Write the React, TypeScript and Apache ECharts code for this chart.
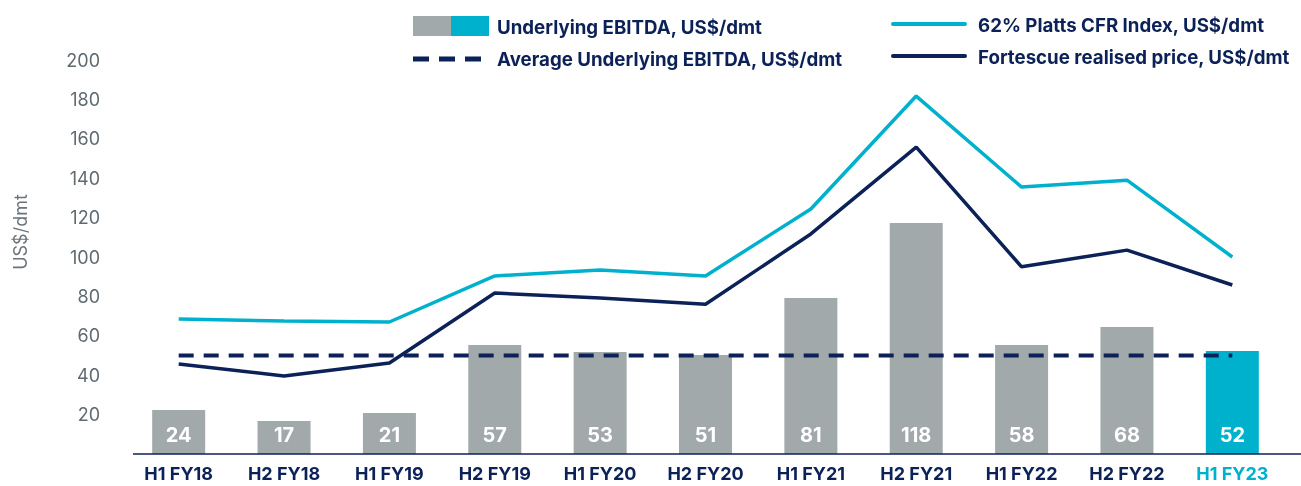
import React, { useEffect, useRef } from "react";
import * as echarts from "echarts";

const categories = ["H1 FY18", "H2 FY18", "H1 FY19", "H2 FY19", "H1 FY20", "H2 FY20", "H1 FY21", "H2 FY21", "H1 FY22", "H2 FY22", "H1 FY23"];
const ebitdaLabels = [24, 17, 21, 57, 53, 51, 81, 118, 58, 68, 52];
const ebitdaBars = [22.3, 16.8, 20.8, 55.3, 51.8, 50.3, 79.2, 117.3, 55.3, 64.5, 52.3];
const plattsIndex = [68.5, 67.5, 67, 90.4, 93.4, 90.4, 124.4, 181.7, 135.5, 139, 100];
const realisedPrice = [45.7, 39.6, 46.2, 81.7, 79.2, 76, 111.7, 155.8, 95, 103.5, 85.8];
const averageEbitda = [50, 50, 50, 50, 50, 50, 50, 50, 50, 50, 50];

const NAVY = "#0b2157";
const CYAN = "#00b1cd";
const GREY = "#a2a9ab";
const FONT = "Inter, 'Noto Sans', sans-serif";

export default function App() {
  const ref = useRef<HTMLDivElement>(null);
  useEffect(() => {
    const chart = echarts.init(ref.current!, null, { renderer: "svg" });
    const last = categories.length - 1;
    const legendFont = `bold 18.7px ${FONT}`;
    chart.setOption({
      animation: false,
      textStyle: { fontFamily: FONT },
      grid: { left: 126, right: 16, top: 60, bottom: 32 },
      xAxis: {
        type: "category",
        data: categories,
        axisLine: { show: false },
        axisTick: { show: false },
        axisLabel: {
          margin: 10,
          fontSize: 18,
          fontWeight: "bold",
          fontFamily: FONT,
          color: (v: string, i: number) => (i === last ? CYAN : NAVY),
        },
      },
      yAxis: {
        type: "value",
        min: 0,
        max: 200,
        interval: 20,
        splitLine: { show: false },
        axisLine: { show: false },
        axisTick: { show: false },
        axisLabel: {
          margin: 26,
          fontSize: 18,
          color: "#5f6a72",
          fontFamily: FONT,
          formatter: (v: number) => (v === 0 ? "" : String(v)),
        },
      },
      series: [
        {
          type: "bar",
          name: "Underlying EBITDA, US$/dmt",
          barWidth: 53,
          data: ebitdaBars.map((v, i) => ({
            value: v,
            itemStyle: { color: i === last ? CYAN : GREY },
          })),
          label: {
            show: true,
            position: "insideBottom",
            distance: 9,
            color: "#ffffff",
            fontSize: 20,
            fontWeight: "bold",
            fontFamily: FONT,
            formatter: (p: any) => String(ebitdaLabels[p.dataIndex]),
          },
          z: 1,
        },
        {
          type: "line",
          name: "Average Underlying EBITDA, US$/dmt",
          data: averageEbitda,
          symbol: "none",
          lineStyle: { color: NAVY, width: 4, type: [15, 10] },
          z: 3,
        },
        {
          type: "line",
          name: "62% Platts CFR Index, US$/dmt",
          data: plattsIndex,
          symbol: "none",
          lineStyle: { color: CYAN, width: 3.5 },
          z: 4,
        },
        {
          type: "line",
          name: "Fortescue realised price, US$/dmt",
          data: realisedPrice,
          symbol: "none",
          lineStyle: { color: NAVY, width: 3.5 },
          z: 4,
        },
      ],
      graphic: [
        { type: "line", shape: { x1: 133, y1: 454, x2: 1301, y2: 454 }, style: { stroke: NAVY, lineWidth: 1.5 }, z: 10 },
        { type: "text", x: 20, y: 232, rotation: Math.PI / 2, style: { text: "US$/dmt", fill: "#6b747b", font: `18px ${FONT}`, align: "center", verticalAlign: "middle" } },
        { type: "rect", left: 413, top: 16, shape: { width: 38, height: 20 }, style: { fill: GREY } },
        { type: "rect", left: 451, top: 16, shape: { width: 38, height: 20 }, style: { fill: CYAN } },
        { type: "text", x: 497, y: 27, style: { text: "Underlying EBITDA, US$/dmt", fill: NAVY, font: legendFont, verticalAlign: "middle" } },
        { type: "line", shape: { x1: 413, y1: 59, x2: 482, y2: 59 }, style: { stroke: NAVY, lineWidth: 5, lineDash: [16, 10] } },
        { type: "text", x: 497, y: 59, style: { text: "Average Underlying EBITDA, US$/dmt", fill: NAVY, font: legendFont, verticalAlign: "middle" } },
        { type: "line", shape: { x1: 893, y1: 24, x2: 965, y2: 24 }, style: { stroke: CYAN, lineWidth: 4, lineCap: "round" } },
        { type: "text", x: 978, y: 25, style: { text: "62% Platts CFR Index, US$/dmt", fill: NAVY, font: legendFont, verticalAlign: "middle" } },
        { type: "line", shape: { x1: 893, y1: 56, x2: 965, y2: 56 }, style: { stroke: NAVY, lineWidth: 4, lineCap: "round" } },
        { type: "text", x: 978, y: 57, style: { text: "Fortescue realised price, US$/dmt", fill: NAVY, font: legendFont, verticalAlign: "middle" } },
      ],
    });
    return () => chart.dispose();
  }, []);
  return <div ref={ref} style={{ position: "fixed", left: 0, top: 0, width: 1301, height: 486 }} />;
}
